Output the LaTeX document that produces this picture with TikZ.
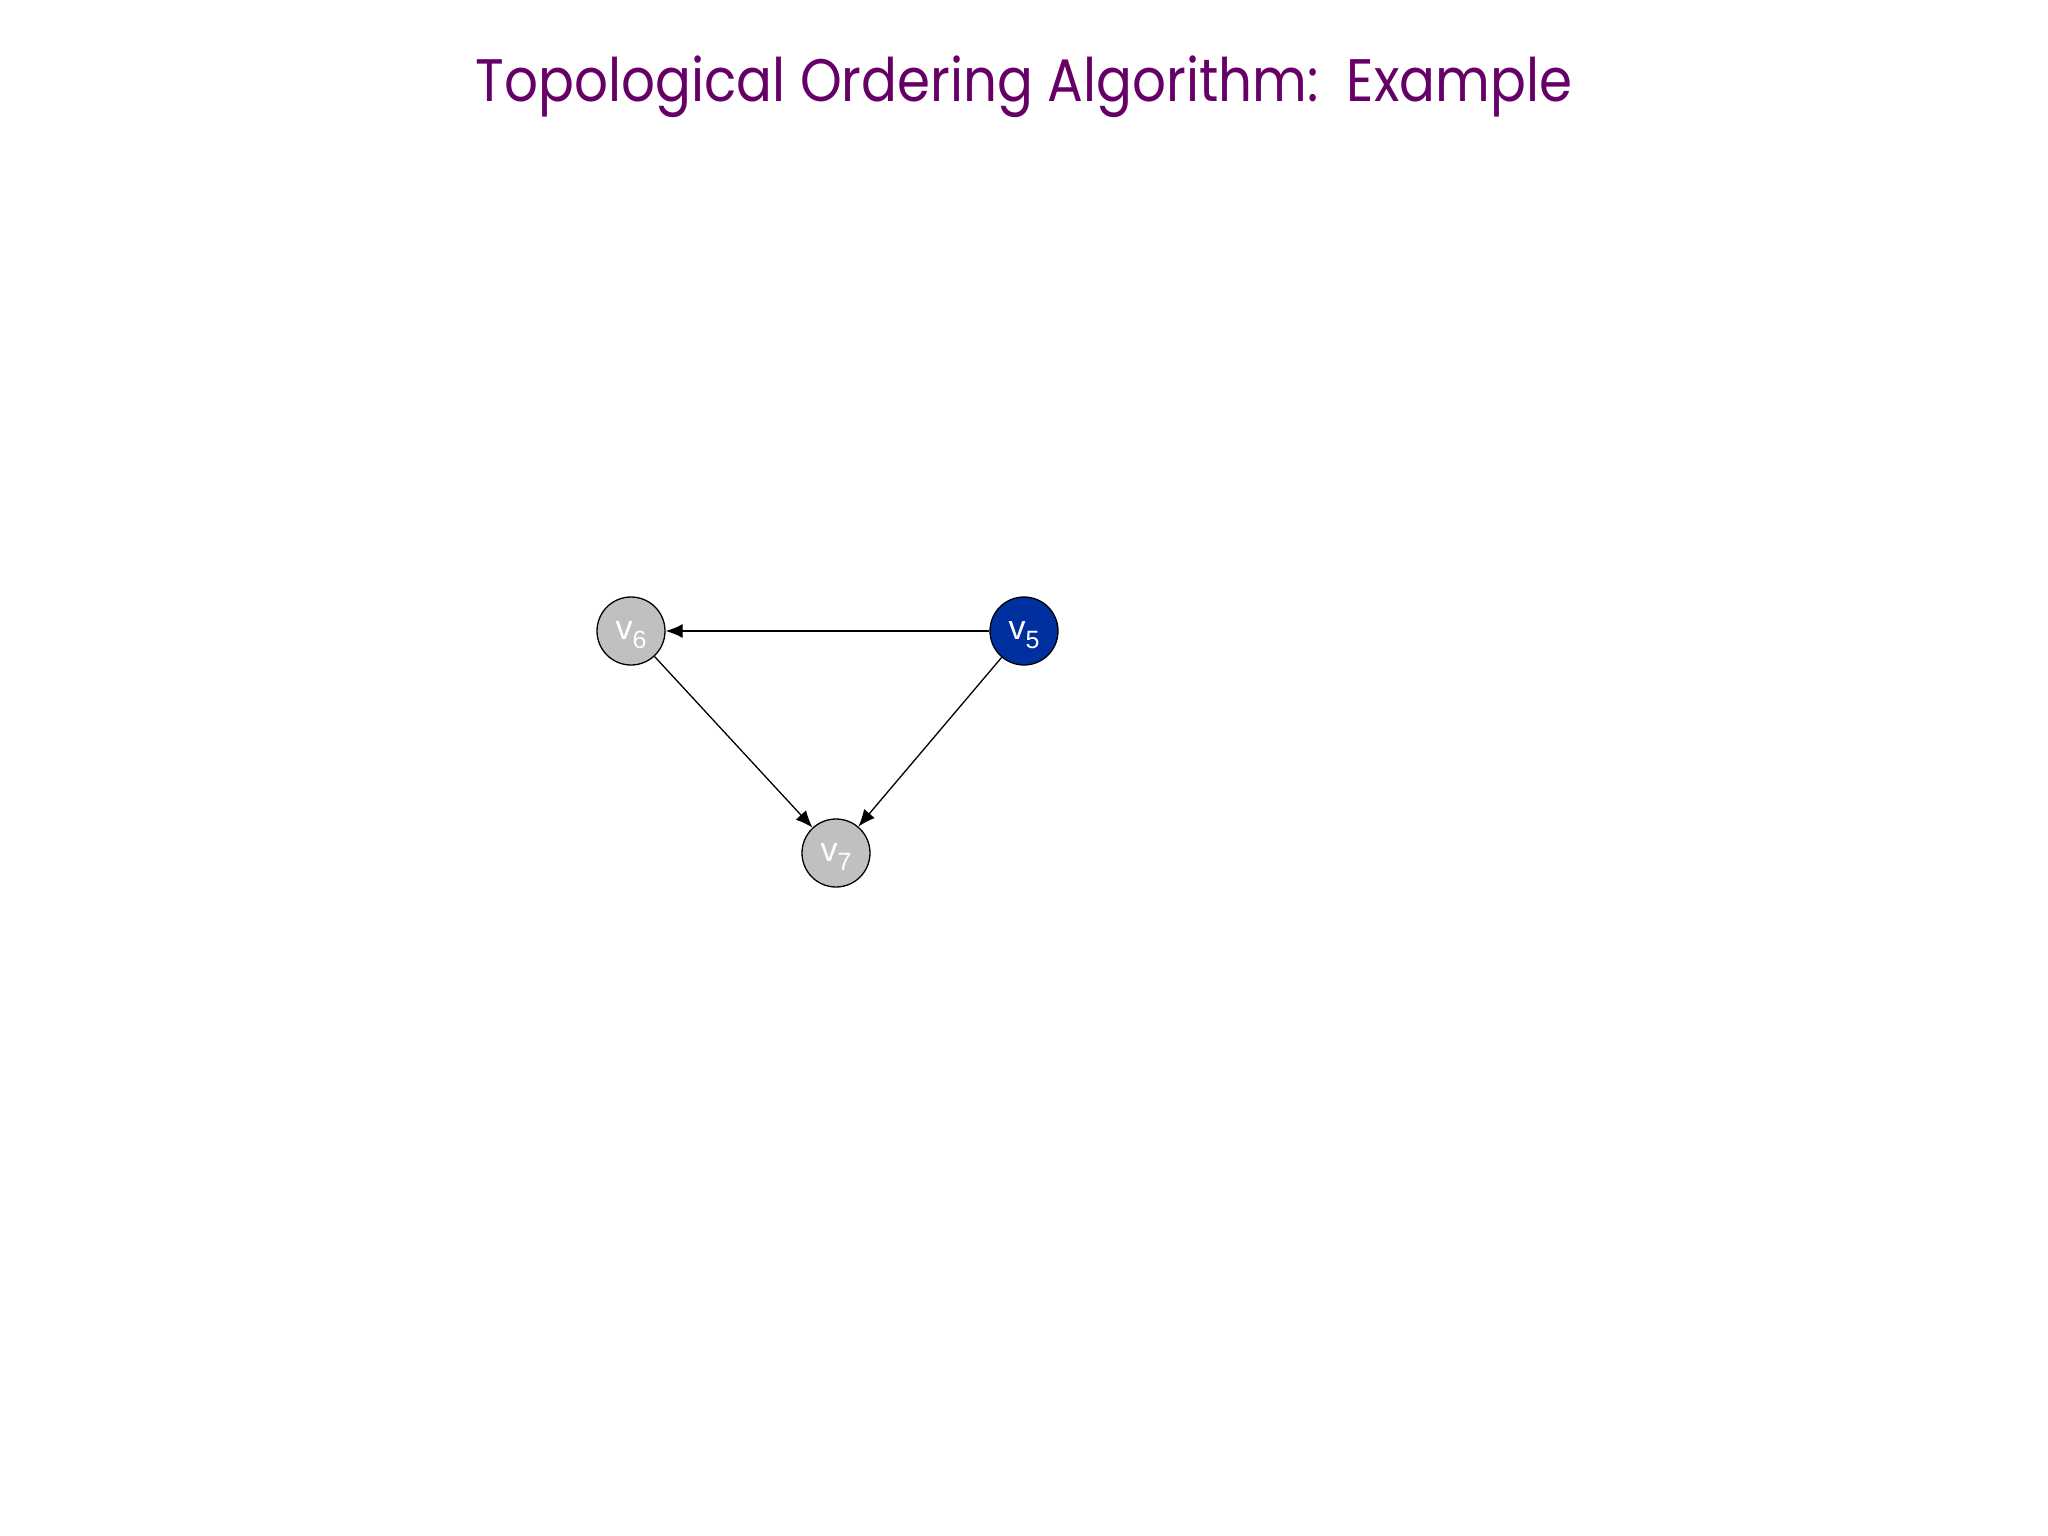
\documentclass[tikz,border=0pt]{standalone}
\usepackage{fontspec}
\usepackage{graphicx}
\setmainfont{Liberation Sans}
\newfontfamily\titlefont{Poppins}
\usetikzlibrary{arrows.meta}
\definecolor{titlepurple}{RGB}{102,0,102}
\definecolor{vblue}{RGB}{0,48,160}
\definecolor{vgray}{RGB}{192,192,192}
\tikzset{
  vert/.style={circle, draw=black, line width=1.3pt, minimum size=68pt, inner sep=0pt, text=white, font=\fontsize{34}{34}\selectfont},
  grayv/.style={vert, fill=vgray},
  bluev/.style={vert, fill=vblue},
  edge/.style={line width=1.3pt, -{Latex[length=17pt,width=14pt]}},
}
\newcommand{\vlab}[1]{\raisebox{-3pt}{v{\fontsize{25}{25}\selectfont\raisebox{-9pt}[0pt][0pt]{#1}}}}
\begin{document}
\begin{tikzpicture}[x=1pt,y=-1pt]
\useasboundingbox (0,0) rectangle (2048,1536);
\node[anchor=base, text=titlepurple] (title) at (1024,102)
  {\resizebox{1096pt}{\height}{\titlefont\fontsize{60}{66}\selectfont Topological Ordering Algorithm:\ \ Example}};
\node[grayv] (v6) at (631,631) {\vlab{6}};
\node[bluev] (v5) at (1024,631) {\vlab{5}};
\node[grayv] (v7) at (836,853) {\vlab{7}};
\draw[edge] (v5) -- (v6);
\draw[edge] (v6) -- (v7);
\draw[edge] (v5) -- (v7);
\end{tikzpicture}
\end{document}
